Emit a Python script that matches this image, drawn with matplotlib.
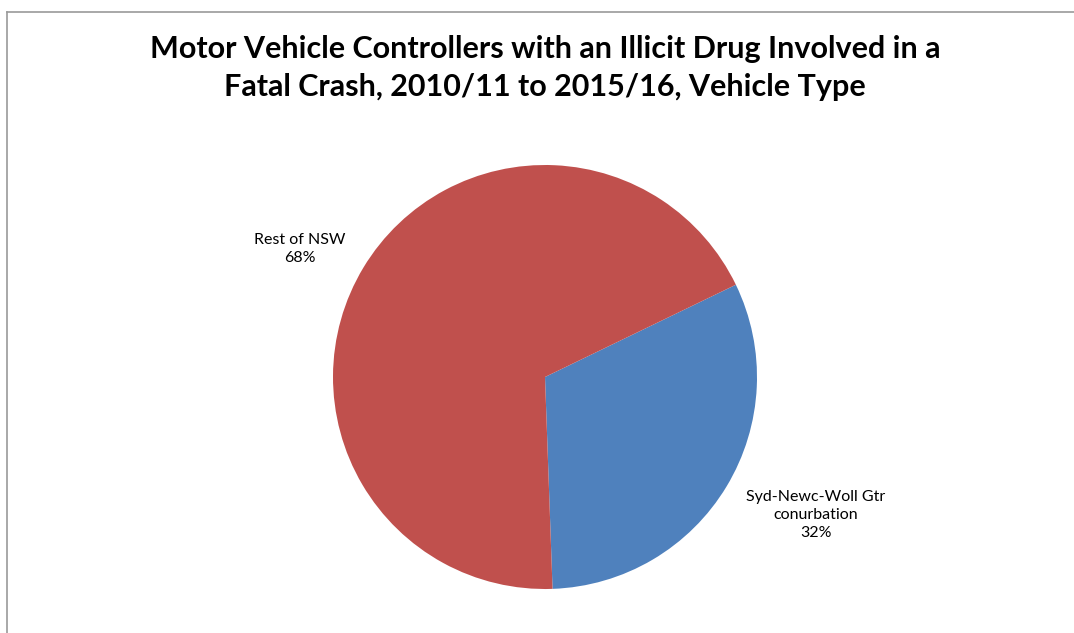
import matplotlib
matplotlib.use('Agg')
import matplotlib.pyplot as plt
from matplotlib.lines import Line2D

# data
categories = ['Syd-Newc-Woll Gtr\nconurbation', 'Rest of NSW']
shares = [31.6, 68.4]
colors = ['#4F81BD', '#C0504D']
title = ('Motor Vehicle Controllers with an Illicit Drug Involved in a\n'
         'Fatal Crash, 2010/11 to 2015/16, Vehicle Type')

plt.rcParams['font.family'] = ['Lato', 'DejaVu Sans']

fig = plt.figure(figsize=(10.74, 6.33), dpi=100)

# chart area border (left + top edges visible)
fig.add_artist(Line2D([7/1074, 7/1074], [0, 1 - 12/633], transform=fig.transFigure,
                      color='#9a9a9a', lw=1.2))
fig.add_artist(Line2D([7/1074, 1], [1 - 12/633, 1 - 12/633], transform=fig.transFigure,
                      color='#9a9a9a', lw=1.2))

fig.text(545/1074, 1 - 68/633, title, ha='center', va='center', fontsize=22,
         fontweight='bold', linespacing=1.45)

cx, cy, r = 545, 377, 212
ax = fig.add_axes([(cx - r)/1074, 1 - (cy + r)/633, 2*r/1074, 2*r/633])
wedges, _ = ax.pie(shares, colors=colors, startangle=25.8, counterclock=False,
                   radius=1.0, wedgeprops=dict(linewidth=0))
ax.set_xlim(-1, 1)
ax.set_ylim(-1, 1)
ax.set_aspect('auto')
ax.axis('off')

label_pos = [(1.278, -0.651), (-1.156, 0.604)]
for cat, val, (lx, ly) in zip(categories, shares, label_pos):
    ax.text(lx, ly, f'{cat}\n{val:.0f}%', ha='center', va='center', fontsize=11.5,
            linespacing=1.4, clip_on=False)

fig.savefig('out.png', dpi=100)
